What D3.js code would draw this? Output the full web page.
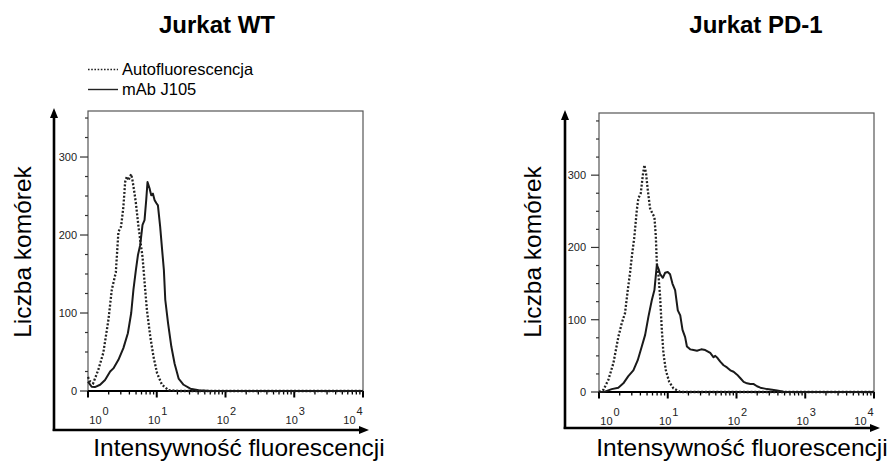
<!DOCTYPE html>
<html>
<head>
<meta charset="utf-8">
<script src="https://cdn.jsdelivr.net/npm/d3@7"></script>
<style>
  body { margin: 0; background: #fff; }
  svg { display: block; }
</style>
</head>
<body>
<div id="chart"></div>
<script>
// titles and labels
const panelTitles = ["Jurkat WT", "Jurkat PD-1"];
const legendLabels = ["Autofluorescencja", "mAb J105"];
const yAxisLabel = "Liczba komórek";
const xAxisLabel = "Intensywność fluorescencji";
const xTickExponents = [0, 1, 2, 3, 4];
const yMajorTicks = [0, 100, 200, 300];

// Jurkat WT - autofluorescence (dotted)
const wtAutoX = [1.0, 1.05, 1.19, 1.41, 1.67, 1.98, 2.22, 2.54, 2.77, 3.03, 3.27, 3.47, 3.67, 3.87, 4.25, 4.44, 4.74, 4.97, 5.42, 5.74, 6.21, 6.79, 7.19, 8.04, 8.97, 10.1, 11.9, 14.9, 22, 10000];
const wtAutoCount = [18, 13, 10, 27, 49, 91, 130, 152, 204, 211, 236, 268, 275, 270, 278, 270, 254, 241, 211, 194, 172, 130, 104, 70, 44, 23, 8, 1, 0, 0];

// Jurkat WT - mAb J105 (solid)
const wtMabX = [1.0, 1.13, 1.26, 1.5, 1.77, 2.1, 2.34, 2.77, 3.27, 3.8, 4.25, 4.58, 4.97, 5.32, 5.74, 6.21, 6.64, 7.03, 7.34, 7.85, 8.31, 8.8, 9.29, 9.84, 10.4, 11.2, 12.0, 12.7, 13.3, 14.6, 16.3, 18.2, 20.8, 24.6, 30.8, 40.8, 60, 10000];
const wtMabCount = [12, 5.5, 5, 8, 14, 25, 29, 40, 55, 74, 100, 130, 155, 174, 187, 213, 219, 245, 268, 260, 251, 253, 245, 241, 238, 211, 180, 155, 117, 87, 57, 35, 16, 8, 3, 1, 0, 0];

// Jurkat PD-1 - autofluorescence (dotted)
const pdAutoX = [1.0, 1.16, 1.37, 1.62, 1.91, 2.14, 2.39, 2.62, 2.83, 3.0, 3.27, 3.55, 3.74, 4.05, 4.34, 4.57, 4.84, 5.13, 5.53, 5.98, 6.4, 6.71, 6.94, 7.31, 7.74, 8.2, 8.65, 9.38, 10.5, 12.1, 15.2, 10000];
const pdAutoCount = [0, 3, 17, 40, 76, 95, 109, 141, 165, 187, 215, 252, 268, 275, 300, 314, 302, 279, 254, 247, 242, 215, 178, 163, 132, 86, 54, 30, 14, 5, 0, 0];

// Jurkat PD-1 - mAb J105 (solid)
const pdMabX = [1.0, 1.22, 1.53, 1.91, 2.26, 2.67, 3.16, 3.66, 4.19, 4.69, 5.23, 5.86, 6.4, 6.94, 7.37, 7.75, 8.48, 9.16, 10.0, 10.8, 11.7, 12.8, 14.0, 15.2, 16.4, 17.9, 19.0, 21.2, 23.7, 26.6, 30.7, 35.1, 41.5, 46.4, 49.1, 53.0, 58.0, 64.9, 72.7, 81.3, 90.7, 102, 114, 127, 142, 159, 178, 199, 222, 248, 279, 330, 389, 486, 720, 10000];
const pdMabCount = [0, 0.5, 4, 6, 12, 22, 30, 44, 63, 79, 104, 127, 141, 176, 170, 163, 158, 165, 166, 163, 150, 141, 113, 106, 86, 76, 63, 59, 58, 57, 59, 58, 54, 48, 50, 47, 42, 37, 34, 30, 28, 24, 19, 14, 12, 11, 11, 8, 6, 5, 4, 3, 2, 0.5, 0, 0];

const width = 894, height = 466;
const font = "'Liberation Sans', Arial, Helvetica, sans-serif";

const svg = d3.select("#chart").append("svg")
  .attr("width", width)
  .attr("height", height);

svg.append("defs").append("marker")
  .attr("id", "arrow")
  .attr("viewBox", "0 0 10 8")
  .attr("refX", 2)
  .attr("refY", 4)
  .attr("markerWidth", 10)
  .attr("markerHeight", 8)
  .attr("markerUnits", "userSpaceOnUse")
  .attr("orient", "auto")
  .append("path")
  .attr("d", "M0,0 L10,4 L0,8 Z")
  .attr("fill", "#000");

const zip = (xs, ys) => xs.map((x, i) => ({ x, y: ys[i] }));

function drawPanel(cfg) {
  const x = d3.scaleLog().domain([1, 10000]).range(cfg.xRange);
  const y = d3.scaleLinear().domain([0, cfg.yMax]).range(cfg.yRange);
  const [x0, x1] = x.range();
  const [yb, yt] = y.range();
  const g = svg.append("g");

  // title
  g.append("text")
    .attr("x", cfg.titleX)
    .attr("y", 33)
    .attr("text-anchor", "middle")
    .style("font-family", font)
    .style("font-size", "24px")
    .style("font-weight", "bold")
    .text(cfg.title);

  // plot frame
  g.append("rect")
    .attr("x", x0).attr("y", yt)
    .attr("width", x1 - x0).attr("height", yb - yt)
    .attr("fill", "none")
    .attr("stroke", "#555")
    .attr("stroke-width", 1.2);

  // y ticks
  const yMinor = d3.range(0, cfg.yMax, 25);
  g.append("g").selectAll("line")
    .data(yMinor)
    .join("line")
    .attr("x1", d => yMajorTicks.includes(d) ? x0 - 8 : x0 - 3)
    .attr("x2", x0)
    .attr("y1", d => y(d)).attr("y2", d => y(d))
    .attr("stroke", "#333")
    .attr("stroke-width", 1.2);

  g.append("g").selectAll("text")
    .data(yMajorTicks)
    .join("text")
    .attr("x", x0 - cfg.yLabelGap)
    .attr("y", d => y(d) + 4)
    .attr("text-anchor", "end")
    .style("font-family", font)
    .style("font-size", "11px")
    .attr("fill", "#222")
    .text(d => d);

  // x axis baseline with log ticks
  g.append("line")
    .attr("x1", x0).attr("x2", x1)
    .attr("y1", yb).attr("y2", yb)
    .attr("stroke", "#000")
    .attr("stroke-width", 2);

  g.append("g").selectAll("line")
    .data(x.ticks())
    .join("line")
    .attr("x1", d => x(d)).attr("x2", d => x(d))
    .attr("y1", yb)
    .attr("y2", d => Number.isInteger(Math.log10(d)) ? yb + 6.5 : yb + 3.5)
    .attr("stroke", "#000")
    .attr("stroke-width", d => Number.isInteger(Math.log10(d)) ? 2 : 1.3);

  const xl = g.append("g").selectAll("text")
    .data(xTickExponents)
    .join("text")
    .attr("x", (d, i) => x(Math.pow(10, d)) + (i === 0 ? 11 : i === xTickExponents.length - 1 ? -10 : 1))
    .attr("y", yb + 33)
    .attr("text-anchor", "middle")
    .style("font-family", font)
    .style("font-size", "11px")
    .attr("fill", "#222");
  xl.append("tspan").text("10");
  xl.append("tspan")
    .attr("dx", 1)
    .attr("dy", -9)
    .style("font-size", "11px")
    .text(d => d);

  // curves
  const line = d3.line().x(d => x(d.x)).y(d => y(d.y));
  g.append("path")
    .datum(zip(cfg.autoX, cfg.autoY))
    .attr("d", line)
    .attr("fill", "none")
    .attr("stroke", "#222")
    .attr("stroke-width", 2.3)
    .attr("stroke-dasharray", "2,1.8");
  g.append("path")
    .datum(zip(cfg.mabX, cfg.mabY))
    .attr("d", line)
    .attr("fill", "none")
    .attr("stroke", "#1a1a1a")
    .attr("stroke-width", 2)
    .attr("stroke-linejoin", "round");

  // arrows
  const ax = x0 - cfg.arrowGap;
  const ay = cfg.arrowY;
  g.append("line")
    .attr("x1", ax).attr("y1", ay + 1)
    .attr("x2", ax).attr("y2", yt + 5)
    .attr("stroke", "#000").attr("stroke-width", 2.6)
    .attr("marker-end", "url(#arrow)");
  g.append("line")
    .attr("x1", ax - 1.3).attr("y1", ay)
    .attr("x2", x1 - 2).attr("y2", ay)
    .attr("stroke", "#000").attr("stroke-width", 2.6)
    .attr("marker-end", "url(#arrow)");

  // axis labels
  g.append("text")
    .attr("transform", `translate(${cfg.yLabelX},${cfg.yLabelY}) rotate(-90)`)
    .attr("text-anchor", "middle")
    .style("font-family", font)
    .style("font-size", "24.5px")
    .text(yAxisLabel);
  g.append("text")
    .attr("x", cfg.xLabelX)
    .attr("y", 456)
    .attr("text-anchor", "middle")
    .style("font-family", font)
    .style("font-size", "24.5px")
    .text(xAxisLabel);
}

drawPanel({
  title: panelTitles[0], titleX: 217,
  xRange: [88, 363], yRange: [391, 111], yMax: 359,
  yLabelGap: 11, arrowGap: 34, arrowY: 430,
  yLabelX: 31, yLabelY: 252, xLabelX: 239,
  autoX: wtAutoX, autoY: wtAutoCount, mabX: wtMabX, mabY: wtMabCount
});

drawPanel({
  title: panelTitles[1], titleX: 756,
  xRange: [599, 874], yRange: [392, 113], yMax: 386,
  yLabelGap: 13, arrowGap: 34, arrowY: 428,
  yLabelX: 541, yLabelY: 252, xLabelX: 742,
  autoX: pdAutoX, autoY: pdAutoCount, mabX: pdMabX, mabY: pdMabCount
});

// legend (left panel only)
const legend = svg.append("g").attr("transform", "translate(88,0)");
legendLabels.forEach((label, i) => {
  const ly = 69.5 + i * 20;
  legend.append("line")
    .attr("x1", 0).attr("x2", 30)
    .attr("y1", ly).attr("y2", ly)
    .attr("stroke", "#222")
    .attr("stroke-width", i === 0 ? 1.6 : 1.4)
    .attr("stroke-dasharray", i === 0 ? "1.6,1.6" : null);
  legend.append("text")
    .attr("x", 34)
    .attr("y", ly + 5.5)
    .style("font-family", font)
    .style("font-size", "16.5px")
    .text(label);
});
</script>
</body>
</html>
